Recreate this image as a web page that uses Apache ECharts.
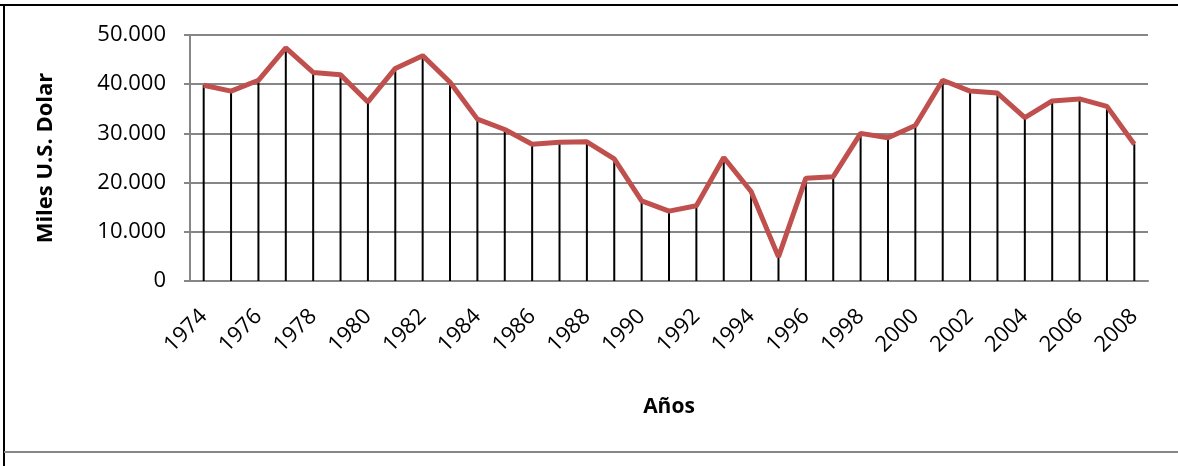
<!DOCTYPE html>
<html><head><meta charset="utf-8">
<script src="https://cdn.jsdelivr.net/npm/echarts@6/dist/echarts.min.js"></script>
<style>html,body{margin:0;padding:0;background:#fff}#c{width:1178px;height:466px}</style>
</head><body><div id="c"></div>
<script>
const years = ["1974","1975","1976","1977","1978","1979","1980","1981","1982","1983","1984","1985","1986","1987","1988","1989","1990","1991","1992","1993","1994","1995","1996","1997","1998","1999","2000","2001","2002","2003","2004","2005","2006","2007","2008"];
const values = [39800,38600,40800,47400,42400,41900,36400,43200,45800,40400,32900,30800,27800,28200,28300,24800,16300,14200,15300,25100,18200,4900,20900,21200,30000,29100,31600,40800,38600,38200,33200,36600,37000,35500,27800];
const yTicks = [0,10000,20000,30000,40000,50000];
const yTitle = "Miles U.S. Dolar";
const xTitle = "Años";

const font = "'Open Sans', 'Noto Sans', sans-serif";
const chart = echarts.init(document.getElementById('c'), null, {renderer:'canvas'});
function fmt(v){ return v === 0 ? '0' : String(v).replace(/\B(?=(\d{3})+(?!\d))/g, '.'); }
chart.setOption({
  animation:false,
  backgroundColor:'#fff',
  grid:{left:190,right:30,top:35,bottom:185},
  xAxis:{
    type:'category', data:years, boundaryGap:true,
    axisLine:{lineStyle:{color:'#868686',width:2}},
    axisTick:{show:false},
    axisLabel:{interval:1, rotate:45, margin:32, fontSize:22, color:'#000', fontFamily:font},
    name:xTitle, nameLocation:'middle', nameGap:116,
    nameTextStyle:{fontSize:21, fontWeight:'bold', color:'#000', fontFamily:font}
  },
  yAxis:{
    type:'value', min:yTicks[0], max:yTicks[yTicks.length-1], interval:10000,
    axisLine:{show:true, lineStyle:{color:'#868686',width:2}},
    axisTick:{show:true, length:6, lineStyle:{color:'#868686',width:2}},
    splitLine:{lineStyle:{color:'#868686',width:2}},
    axisLabel:{formatter:fmt, fontSize:22, color:'#000', fontFamily:font, margin:24},
    name:yTitle, nameLocation:'middle', nameGap:133, nameRotate:90,
    nameTextStyle:{fontSize:22, fontWeight:'bold', color:'#000', fontFamily:font}
  },
  series:[
    {type:'bar', data:values, barWidth:2, itemStyle:{color:'#000'}, z:2, silent:true},
    {type:'line', data:values, showSymbol:false, symbol:'none', lineStyle:{color:'#C0504D', width:5}, z:3, silent:true}
  ],
  graphic:[
    {type:'line', shape:{x1:0,y1:5,x2:1178,y2:5}, style:{stroke:'#000',lineWidth:2}},
    {type:'line', shape:{x1:4,y1:4,x2:4,y2:466}, style:{stroke:'#000',lineWidth:2}},
    {type:'line', shape:{x1:4,y1:452,x2:1178,y2:452}, style:{stroke:'#868686',lineWidth:2}}
  ]
});
</script></body></html>
